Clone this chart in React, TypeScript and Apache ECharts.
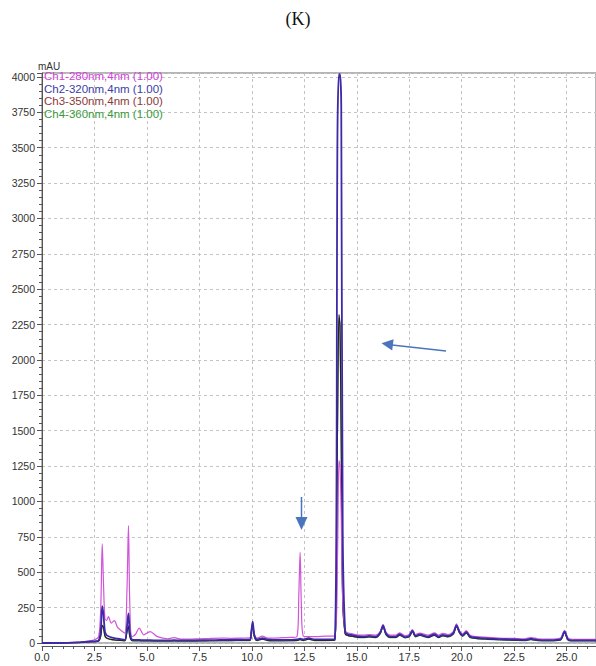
import React, { useEffect, useRef } from "react";
import * as echarts from "echarts";

const title = "(K)";
const yUnit = "mAU";
const channelNames = [
  "Ch1-280nm,4nm (1.00)",
  "Ch2-320nm,4nm (1.00)",
  "Ch3-350nm,4nm (1.00)",
  "Ch4-360nm,4nm (1.00)",
];

const times = [
  0, 1.0, 1.8, 2.2, 2.5, 2.7, 2.8, 2.87, 2.93, 3.0,
  3.08, 3.17, 3.3, 3.45, 3.6, 3.8, 3.95, 4.05, 4.12, 4.18,
  4.28, 4.45, 4.63, 4.85, 5.15, 5.5, 6.0, 6.3, 6.6, 7.0,
  7.5, 8.0, 8.5, 9.0, 9.5, 9.9, 9.98, 10.04, 10.12, 10.25,
  10.5, 10.75, 11.0, 11.5, 11.9, 12.15, 12.24, 12.3, 12.36, 12.45,
  12.7, 13.0, 13.5, 13.95, 14.08, 14.15, 14.2, 14.26, 14.33, 14.45,
  14.6, 14.8, 15.0, 15.3, 15.6, 15.9, 16.12, 16.25, 16.4, 16.6,
  16.85, 17.05, 17.3, 17.5, 17.65, 17.8, 18.0, 18.4, 18.7, 18.9,
  19.1, 19.35, 19.6, 19.75, 19.9, 20.05, 20.22, 20.4, 20.7, 21.2,
  21.8, 22.5, 23.0, 23.3, 23.6, 24.2, 24.7, 24.9, 25.1, 25.6,
  26.4,
];

const ch1 = [
  2, 3, 6, 14, 22, 45, 250, 700, 420, 170,
  160, 186, 140, 158, 110, 85, 70, 380, 830, 300,
  45, 60, 105, 58, 80, 45, 30, 38, 28, 28,
  30, 32, 35, 33, 35, 36, 80, 135, 60, 35,
  48, 35, 35, 38, 40, 45, 350, 640, 260, 50,
  45, 45, 48, 50, 600, 1290, 1250, 900, 300, 85,
  70, 65, 58, 55, 60, 55, 80, 130, 75, 55,
  55, 72, 52, 60, 95, 60, 70, 55, 72, 55,
  68, 60, 80, 135, 85, 65, 88, 55, 45, 40,
  35, 32, 30, 38, 30, 28, 35, 90, 32, 25,
  25,
];

const ch2 = [
  0, 0, 5, 10, 12, 18, 90, 260, 200, 80,
  55, 48, 40, 35, 30, 25, 22, 120, 210, 90,
  25, 22, 22, 20, 20, 18, 18, 20, 18, 18,
  20, 20, 22, 22, 24, 24, 90, 150, 55, 25,
  35, 25, 22, 22, 22, 25, 28, 30, 28, 25,
  35, 25, 25, 28, 3600, 4020, 4020, 3800, 800, 75,
  60, 55, 48, 45, 50, 45, 75, 125, 65, 45,
  45, 62, 42, 50, 88, 50, 60, 45, 62, 45,
  58, 50, 70, 125, 78, 55, 78, 45, 38, 32,
  28, 25, 22, 30, 22, 20, 25, 80, 22, 18,
  18,
];

const ch3 = [
  0, 0, 3, 8, 10, 14, 50, 125, 110, 50,
  35, 30, 25, 22, 20, 18, 16, 80, 120, 50,
  18, 16, 16, 15, 15, 14, 14, 15, 14, 14,
  15, 16, 17, 17, 18, 18, 80, 135, 45, 18,
  28, 18, 16, 16, 17, 18, 22, 25, 22, 18,
  28, 18, 18, 20, 1500, 2320, 2250, 1400, 300, 65,
  52, 48, 42, 40, 44, 40, 68, 118, 58, 40,
  40, 56, 38, 45, 82, 45, 55, 40, 56, 40,
  52, 45, 64, 118, 72, 50, 72, 40, 33, 28,
  24, 21, 19, 26, 19, 17, 22, 75, 19, 16,
  16,
];

const ch4 = [
  0, 0, 3, 8, 10, 14, 48, 120, 105, 48,
  34, 29, 24, 21, 19, 17, 15, 78, 115, 48,
  17, 15, 15, 14, 14, 13, 13, 14, 13, 13,
  14, 15, 16, 16, 17, 17, 78, 130, 44, 17,
  27, 17, 15, 15, 16, 17, 21, 24, 21, 17,
  27, 17, 17, 19, 1500, 2300, 2240, 1400, 300, 63,
  50, 46, 40, 38, 42, 38, 66, 115, 56, 38,
  38, 54, 36, 43, 80, 43, 53, 38, 54, 38,
  50, 43, 62, 115, 70, 48, 70, 38, 31, 26,
  22, 19, 17, 24, 17, 15, 20, 72, 17, 14,
  14,
];

const lineColors = ["#d055d8", "#3c2aa6", "#2c1c28", "#3a9a3a"];
const legendColors = ["#d040d8", "#3c3ca8", "#8a3a3a", "#3a9a3a"];

export default function App() {
  const ref = useRef<HTMLDivElement>(null);

  useEffect(() => {
    if (!ref.current) return;
    const chart = echarts.init(ref.current, null, { renderer: "svg" });
    const toPairs = (vals: number[]) => times.map((t, i) => [t, vals[i]]);
    const all = [ch1, ch2, ch3, ch4];
    const drawOrder = [3, 2, 0, 1];
    const font = "Liberation Sans, Arial, sans-serif";

    const legendTexts = channelNames.map((name, i) => ({
      type: "text",
      left: 44,
      top: 70 + i * 12.5,
      z: 100,
      style: {
        text: name,
        fill: legendColors[i],
        font: `11.5px ${font}`,
      },
    }));

    const arrowColor = "#4a74bd";
    const graphics: any[] = [
      {
        type: "text",
        left: "center",
        top: 10,
        style: { text: title, fill: "#111", font: "18px 'Liberation Serif', 'Times New Roman', serif" },
      },
      {
        type: "text",
        left: 38,
        top: 61,
        style: { text: yUnit, fill: "#333", font: `10px ${font}` },
      },
      ...legendTexts,
      {
        type: "line",
        z: 100,
        shape: { x1: 301.5, y1: 497, x2: 301.5, y2: 518 },
        style: { stroke: arrowColor, lineWidth: 1.5 },
      },
      {
        type: "polygon",
        z: 100,
        shape: { points: [[295.5, 517], [307.5, 517], [301.5, 530]] },
        style: { fill: arrowColor },
      },
      {
        type: "line",
        z: 100,
        shape: { x1: 446, y1: 351, x2: 392, y2: 345 },
        style: { stroke: arrowColor, lineWidth: 1.5 },
      },
      {
        type: "polygon",
        z: 100,
        shape: { points: [[393.6, 339.2], [392.2, 350.4], [381.5, 343.3]] },
        style: { fill: arrowColor },
      },
    ];

    chart.setOption({
      animation: false,
      backgroundColor: "#ffffff",
      grid: {
        left: 42,
        right: -2,
        top: 73,
        bottom: 23,
        show: true,
        borderColor: "#6a6a6a",
        borderWidth: 1,
        backgroundColor: "transparent",
      },
      xAxis: {
        type: "value",
        min: 0,
        max: 26.4,
        interval: 2.5,
        offset: 3,
        axisLine: { show: true, onZero: false, lineStyle: { color: "#555", width: 1 } },
        axisTick: { show: true, length: 5, lineStyle: { color: "#555" } },
        minorTick: { show: true, splitNumber: 5, length: 3, lineStyle: { color: "#555" } },
        axisLabel: {
          color: "#333",
          fontSize: 11,
          fontFamily: font,
          margin: 5,
          showMaxLabel: false,
          formatter: (v: number) => v.toFixed(1),
        },
        splitLine: { show: true, lineStyle: { color: "#c4c4c4", type: [3, 3], width: 1 } },
      },
      yAxis: {
        type: "value",
        min: 0,
        max: 4028,
        interval: 250,
        axisLine: { show: true, lineStyle: { color: "#555", width: 1 } },
        axisTick: { show: true, length: 5, lineStyle: { color: "#555" } },
        minorTick: { show: true, splitNumber: 5, length: 3, lineStyle: { color: "#555" } },
        axisLabel: {
          color: "#333",
          fontSize: 10.5,
          fontFamily: font,
          margin: 7,
          showMaxLabel: false,
          formatter: (v: number) => String(Math.round(v)),
        },
        splitLine: { show: true, lineStyle: { color: "#c4c4c4", type: [3, 3], width: 1 } },
      },
      series: drawOrder.map((idx) => ({
        type: "line",
        name: channelNames[idx],
        data: toPairs(all[idx]),
        showSymbol: false,
        symbol: "none",
        smooth: 0.3,
        clip: true,
        lineStyle: { color: lineColors[idx], width: idx === 1 ? 1.8 : 1.2 },
        itemStyle: { color: lineColors[idx] },
      })),
      graphic: graphics,
    });

    return () => chart.dispose();
  }, []);

  return (
    <div
      ref={ref}
      style={{ position: "fixed", left: 0, top: 0, width: 596, height: 666, background: "#fff" }}
    />
  );
}
